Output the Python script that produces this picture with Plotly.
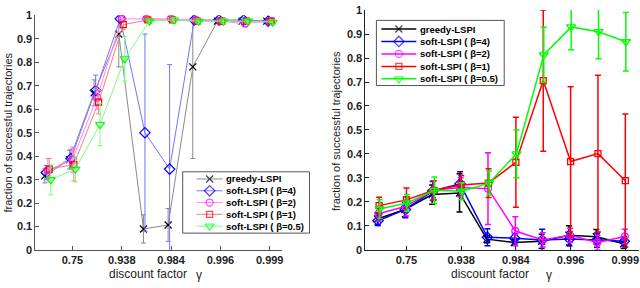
import plotly.graph_objects as go

W, H = 640, 288

# ---------------- data ----------------
x_idx = [1, 2, 3, 4, 5, 6, 7, 8, 9, 10]
x_tick_vals = [2, 4, 6, 8, 10]
x_tick_text = ["0.75", "0.938", "0.984", "0.996", "0.999"]
y_tick_vals = [0, 0.1, 0.2, 0.3, 0.4, 0.5, 0.6, 0.7, 0.8, 0.9, 1.0]
y_tick_text = ["0", "0.1", "0.2", "0.3", "0.4", "0.5", "0.6", "0.7", "0.8", "0.9", "1"]
names = ["greedy-LSPI", "soft-LSPI ( β=4)", "soft-LSPI ( β=2)",
         "soft-LSPI ( β=1)", "soft-LSPI ( β=0.5)"]

# left panel: means and error half-widths
left_greedy = [0.316, 0.385, 0.670, 0.920, 0.090, 0.107, 0.780, 0.975, 0.975, 0.975]
left_greedy_err = [0.030, 0.040, 0.055, 0.140, 0.060, 0.070, 0.390, 0.010, 0.010, 0.010]
left_b4 = [0.330, 0.390, 0.680, 0.985, 0.500, 0.345, 0.980, 0.980, 0.980, 0.975]
left_b4_err = [0.030, 0.040, 0.065, 0.010, 0.420, 0.445, 0.010, 0.010, 0.010, 0.010]
left_b2 = [0.340, 0.385, 0.650, 0.985, 0.985, 0.985, 0.980, 0.975, 0.965, 0.975]
left_b2_err = [0.050, 0.055, 0.050, 0.010, 0.010, 0.010, 0.010, 0.015, 0.015, 0.015]
left_b1 = [0.345, 0.364, 0.630, 0.960, 0.980, 0.980, 0.975, 0.975, 0.975, 0.975]
left_b1_err = [0.045, 0.070, 0.050, 0.020, 0.010, 0.010, 0.010, 0.010, 0.010, 0.015]
left_b05 = [0.300, 0.345, 0.535, 0.815, 0.975, 0.980, 0.975, 0.975, 0.975, 0.970]
left_b05_err = [0.065, 0.055, 0.090, 0.095, 0.010, 0.010, 0.010, 0.010, 0.010, 0.010]

# right panel
right_greedy = [0.128, 0.168, 0.230, 0.237, 0.044, 0.030, 0.035, 0.060, 0.054, 0.025]
right_greedy_err = [0.025, 0.030, 0.040, 0.080, 0.015, 0.012, 0.030, 0.040, 0.030, 0.020]
right_b4 = [0.121, 0.168, 0.245, 0.275, 0.052, 0.048, 0.040, 0.045, 0.040, 0.035]
right_b4_err = [0.020, 0.035, 0.040, 0.050, 0.035, 0.020, 0.045, 0.030, 0.030, 0.020]
right_b2 = [0.150, 0.181, 0.248, 0.260, 0.255, 0.078, 0.041, 0.060, 0.030, 0.055]
right_b2_err = [0.030, 0.040, 0.040, 0.040, 0.150, 0.060, 0.030, 0.030, 0.030, 0.030]
right_b1 = [0.184, 0.208, 0.248, 0.270, 0.278, 0.365, 0.706, 0.368, 0.401, 0.288]
right_b1_err = [0.035, 0.050, 0.040, 0.040, 0.060, 0.188, 0.295, 0.312, 0.327, 0.278]
right_b05 = [0.170, 0.195, 0.248, 0.244, 0.278, 0.400, 0.813, 0.930, 0.910, 0.868]
right_b05_err = [0.040, 0.035, 0.055, 0.035, 0.050, 0.100, 0.115, 0.095, 0.113, 0.122]

left_series = [(left_greedy, left_greedy_err), (left_b4, left_b4_err), (left_b2, left_b2_err),
               (left_b1, left_b1_err), (left_b05, left_b05_err)]
right_series = [(right_greedy, right_greedy_err), (right_b4, right_b4_err), (right_b2, right_b2_err),
                (right_b1, right_b1_err), (right_b05, right_b05_err)]

# ---------------- style ----------------
symbols = ["x-thin-open", "diamond-open", "circle-open", "square-open", "triangle-down-open"]
msizes = [7, 8, 7, 6, 8]
mcolors = ["black", "blue", "magenta", "red", "#00ff00"]
left_lcolors = ["#8a8a8a", "#7575ff", "#ff85ff", "#ff7a7a", "#78ff78"]
right_lcolors = ["black", "blue", "magenta", "red", "#00ff00"]
left_offsets = [-0.12, -0.06, 0.0, 0.06, 0.12]
right_offsets = [-0.06, -0.04, -0.02, 0.0, 0.02]
FONT = "Liberation Sans, Arial, Helvetica, sans-serif"


def px(x):
    return x / W


def py(y):
    return 1 - y / H


fig = go.Figure()

for i, (vals, errs) in enumerate(left_series):
    fig.add_trace(go.Scatter(
        x=[v + left_offsets[i] for v in x_idx], y=vals, mode="lines+markers",
        xaxis="x", yaxis="y", showlegend=False, name=names[i],
        line=dict(color=left_lcolors[i], width=1),
        marker=dict(symbol=symbols[i], size=msizes[i], color=mcolors[i],
                    line=dict(color=mcolors[i], width=1.2)),
        error_y=dict(type="data", array=errs, color=left_lcolors[i], thickness=1, width=2.5),
    ))

for i, (vals, errs) in enumerate(right_series):
    fig.add_trace(go.Scatter(
        x=[v + right_offsets[i] for v in x_idx], y=vals, mode="lines+markers",
        xaxis="x2", yaxis="y2", showlegend=False, name=names[i],
        line=dict(color=right_lcolors[i], width=1.5),
        marker=dict(symbol=symbols[i], size=msizes[i], color=mcolors[i],
                    line=dict(color=mcolors[i], width=1.3)),
        error_y=dict(type="data", array=errs, color=right_lcolors[i], thickness=1.5, width=3),
    ))

# ---------------- hand-made legends (pixel overlay axis) ----------------
shapes = []
annotations = []


def add_legend(box, line_x0, line_x1, text_x, row_y0, row_dy, lcolors, lwidth):
    bx0, by0, bx1, by1 = box
    shapes.append(dict(type="rect", xref="paper", yref="paper",
                       x0=px(bx0), x1=px(bx1), y0=py(by0), y1=py(by1),
                       line=dict(color="#555555", width=1), fillcolor="white", layer="below"))
    mid = (line_x0 + line_x1) / 2
    for i, nm in enumerate(names):
        yy = row_y0 + i * row_dy
        fig.add_trace(go.Scatter(
            x=[line_x0, mid, line_x1], y=[yy, yy, yy], mode="lines+markers",
            xaxis="x3", yaxis="y3", showlegend=False, hoverinfo="skip",
            line=dict(color=lcolors[i], width=lwidth),
            marker=dict(symbol=symbols[i], size=[0, msizes[i], 0], color=mcolors[i],
                        line=dict(color=mcolors[i], width=1.3)),
        ))
        annotations.append(dict(text=nm, xref="paper", yref="paper", x=px(text_x), y=py(yy),
                                xanchor="left", yanchor="middle", showarrow=False,
                                font=dict(family=FONT, size=9.5, color="black", weight="bold")))


add_legend((183, 173, 310, 237), 197, 223, 224, 180.5, 12.3, left_lcolors, 1)
add_legend((377, 15, 505, 83), 382, 417, 419, 24, 13, right_lcolors, 1.5)

# axis titles
for cx, cy in [(8, 132), (336, 130)]:
    annotations.append(dict(text="fraction of successful trajectories", xref="paper", yref="paper",
                            x=px(cx), y=py(cy), textangle=-90, showarrow=False,
                            xanchor="center", yanchor="middle",
                            font=dict(family=FONT, size=11, color="#222")))
for cx, gx in [(148.5, 199), (491, 550)]:
    annotations.append(dict(text="discount factor", xref="paper", yref="paper",
                            x=px(cx), y=py(280), showarrow=False, xanchor="center", yanchor="middle",
                            borderpad=0, font=dict(family=FONT, size=12, color="#222")))
    annotations.append(dict(text="γ", xref="paper", yref="paper",
                            x=px(gx), y=py(280.5), showarrow=False, xanchor="center", yanchor="middle",
                            borderpad=0, font=dict(family=FONT, size=12, color="#222")))

tickfont = dict(family=FONT, size=11, color="#222", weight="bold")


def xaxis_cfg(domain, anchor, lc):
    return dict(domain=domain, anchor=anchor, range=[0.5, 10.5], tickmode="array",
                tickvals=x_tick_vals, ticktext=x_tick_text, ticks="inside", ticklen=4,
                tickcolor=lc, showline=True, linecolor=lc, linewidth=1, showgrid=False,
                zeroline=False, tickfont=tickfont, fixedrange=True, ticklabeloverflow="allow")


def yaxis_cfg(domain, anchor, lc):
    return dict(domain=domain, anchor=anchor, range=[0, 1], tickmode="array",
                tickvals=y_tick_vals, ticktext=y_tick_text, ticks="inside", ticklen=4,
                tickcolor=lc, showline=True, linecolor=lc, linewidth=1, showgrid=False,
                zeroline=False, tickfont=tickfont, fixedrange=True, ticklabeloverflow="allow")


fig.update_layout(
    width=W, height=H, margin=dict(l=0, r=0, t=0, b=0),
    paper_bgcolor="white", plot_bgcolor="rgba(0,0,0,0)",
    showlegend=False,
    xaxis=xaxis_cfg([px(35.5), px(282.5)], "y", "#555"),
    yaxis=yaxis_cfg([py(254.7), py(9.7)], "x", "#555"),
    xaxis2=xaxis_cfg([px(366), 1.0], "y2", "#222"),
    yaxis2=yaxis_cfg([py(254.3), py(4.3)], "x2", "#222"),
    xaxis3=dict(domain=[0, 1], anchor="y3", range=[0, W], visible=False, fixedrange=True),
    yaxis3=dict(domain=[0, 1], anchor="x3", range=[H, 0], visible=False, fixedrange=True),
    shapes=shapes, annotations=annotations,
)

fig.write_html("out.html", config={"displayModeBar": False},
               post_script="document.body.style.margin='0';document.body.style.overflow='hidden';")
